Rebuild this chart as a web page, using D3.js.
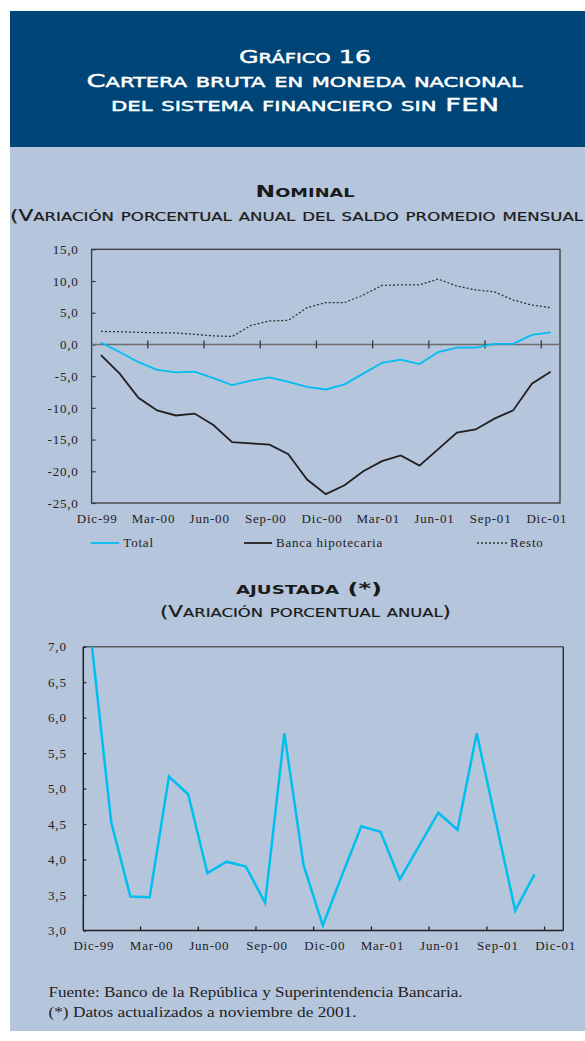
<!DOCTYPE html>
<html><head><meta charset="utf-8">
<script src="https://cdn.jsdelivr.net/npm/d3@7"></script>
<style>body{margin:0;background:#fff}svg{display:block}</style>
</head><body>
<svg id="c" width="585" height="1041"></svg>
<script>
// ---- data ----
const months = ["Dic-99","Ene-00","Feb-00","Mar-00","Abr-00","May-00","Jun-00","Jul-00","Ago-00","Sep-00","Oct-00","Nov-00","Dic-00","Ene-01","Feb-01","Mar-01","Abr-01","May-01","Jun-01","Jul-01","Ago-01","Sep-01","Oct-01","Nov-01","Dic-01"];
const total = [0.3,-1.2,-2.8,-4.0,-4.4,-4.3,-5.3,-6.4,-5.7,-5.2,-5.9,-6.7,-7.1,-6.3,-4.6,-2.9,-2.4,-3.1,-1.2,-0.5,-0.5,0.1,0.1,1.5,1.9];
const banca = [-1.7,-4.6,-8.4,-10.4,-11.2,-10.9,-12.7,-15.4,-15.6,-15.8,-17.3,-21.3,-23.6,-22.2,-20.0,-18.4,-17.5,-19.1,-16.5,-13.9,-13.4,-11.7,-10.4,-6.2,-4.3];
const resto = [2.05,2.0,1.9,1.85,1.8,1.6,1.35,1.25,3.0,3.7,3.8,5.8,6.6,6.6,7.8,9.3,9.4,9.4,10.3,9.2,8.6,8.3,7.0,6.2,5.8];
const ajustada = [7.0,4.53,3.48,3.47,5.17,4.92,3.81,3.97,3.90,3.39,5.78,3.92,3.07,3.78,4.47,4.39,3.72,4.19,4.66,4.42,5.78,4.53,3.28,3.79];
const xTickLabels = ["Dic-99","Mar-00","Jun-00","Sep-00","Dic-00","Mar-01","Jun-01","Sep-01","Dic-01"];
const yTicksTop = [15,10,5,0,-5,-10,-15,-20,-25];
const yTicksBottom = [7,6.5,6,5.5,5,4.5,4,3.5,3];
const legendItems = ["Total","Banca hipotecaria","Resto"];

const locale = d3.formatLocale({decimal:",",thousands:".",grouping:[3],currency:["$",""],minus:"-"});
const fmt = locale.format(".1f");

const svg = d3.select("#c");
const serif = "'Liberation Serif','Times New Roman',serif";
const capsFont = "'DejaVu Sans',sans-serif";
const CYAN = "#00bff0", BLACK = "#231f20", AXIS = "#3a3a3a";

// backgrounds
svg.append("rect").attr("x",10).attr("y",147).attr("width",590).attr("height",884).attr("fill","#b5c5dc");
svg.append("rect").attr("x",10).attr("y",11).attr("width",590).attr("height",136).attr("fill","#004577");

// manual small caps: lowercase letters become smaller capitals
function smallCaps(txt,x,y,len,big,small,color,weight,strokeW){
  const t = svg.append("text").attr("x",x).attr("y",y).attr("textLength",len).attr("lengthAdjust","spacingAndGlyphs")
    .attr("fill",color).attr("font-family",capsFont).attr("font-weight",weight);
  if(strokeW) t.attr("stroke",color).attr("stroke-width",strokeW);
  const runs = [];
  for(const ch of txt){
    const isLower = ch !== ch.toUpperCase();
    const size = isLower ? small : big;
    if(runs.length && runs[runs.length-1].size===size) runs[runs.length-1].s += ch.toUpperCase();
    else runs.push({size, s: ch.toUpperCase()});
  }
  t.selectAll("tspan").data(runs).join("tspan").attr("font-size",d=>d.size).text(d=>d.s);
  return t;
}
// header
smallCaps("Gráfico 16",239,63.3,132,17.5,13.5,"#fff","normal",0.45);
smallCaps("Cartera bruta en moneda nacional",86.6,87.3,436,17.5,13.5,"#fff","normal",0.45);
smallCaps("del sistema financiero sin FEN",111,111,388,17.5,13.5,"#fff","normal",0.45);

smallCaps("Nominal",255.6,197,99,16.5,12.5,"#1a1a1a","bold",0);
smallCaps("(Variación porcentual anual del saldo promedio mensual",10,221,573,15,11.5,"#1a1a1a","normal",0.2);
smallCaps("ajustada (*)",236,594,146,16.5,12.5,"#1a1a1a","bold",0);
smallCaps("(Variación porcentual anual)",160,617,291,15,11.5,"#1a1a1a","normal",0.2);

// ---- top chart ----
const xTop = d3.scaleLinear().domain([-0.5,24.5]).range([91.6,560]);
const yTop = d3.scaleLinear().domain([-25,15]).range([503,249.3]);
const gT = svg.append("g");
gT.append("rect").attr("x",xTop(-0.5)).attr("y",yTop(15)).attr("width",xTop(24.5)-xTop(-0.5)).attr("height",yTop(-25)-yTop(15))
  .attr("fill","none").attr("stroke",AXIS).attr("stroke-width",1.3);
const yAxT = gT.append("g").attr("transform",`translate(${xTop(-0.5)},0)`)
  .call(d3.axisLeft(yTop).tickValues(yTicksTop).tickSize(-4).tickPadding(13).tickFormat(fmt));
yAxT.select(".domain").remove();
yAxT.selectAll("line").attr("stroke",AXIS).attr("stroke-width",1.2);
yAxT.selectAll("text").attr("font-family",serif).attr("font-size",13).attr("letter-spacing","0.8px").attr("fill","#222");
// zero line
gT.append("line").attr("x1",xTop(-0.5)).attr("x2",xTop(24.5)).attr("y1",yTop(0)).attr("y2",yTop(0)).attr("stroke","#6e6e6e").attr("stroke-width",1.5);
const tickIdx = d3.range(2.5,24,3);
gT.selectAll("line.zt").data(tickIdx).join("line").attr("class","zt")
  .attr("x1",d=>xTop(d)).attr("x2",d=>xTop(d)).attr("y1",yTop(0)-4).attr("y2",yTop(0)+4).attr("stroke",AXIS).attr("stroke-width",1.3);
gT.selectAll("text.xl").data(xTickLabels).join("text").attr("class","xl")
  .attr("x",(d,i)=>xTop(3*i-0.2)).attr("y",523).attr("text-anchor","middle")
  .attr("font-family",serif).attr("font-size",13).attr("letter-spacing","0.8px").attr("fill","#222").text(d=>d);
const lineT = arr => d3.line().x((d,i)=>xTop(i)).y(d=>yTop(d))(arr);
gT.append("path").attr("d",lineT(resto)).attr("fill","none").attr("stroke","#333").attr("stroke-width",1.3).attr("stroke-dasharray","2,2");
gT.append("path").attr("d",lineT(banca)).attr("fill","none").attr("stroke",BLACK).attr("stroke-width",1.8);
gT.append("path").attr("d",lineT(total)).attr("fill","none").attr("stroke",CYAN).attr("stroke-width",1.8);

// legend
const legPos = [[90.7,119.3,123.3,CYAN,null],[244,272,276,BLACK,null],[477,507,510,"#333","2,2"]];
legendItems.forEach((name,i)=>{
  const p = legPos[i];
  svg.append("line").attr("x1",p[0]).attr("x2",p[1]).attr("y1",543).attr("y2",543).attr("stroke",p[3])
    .attr("stroke-width",p[4]?1.3:1.8).attr("stroke-dasharray",p[4]);
  svg.append("text").attr("x",p[2]).attr("y",547).attr("font-family",serif).attr("font-size",13)
    .attr("letter-spacing","0.8px").attr("fill","#222").text(name);
});

// ---- bottom chart ----
const xBot = d3.scaleLinear().domain([-0.45,24.5]).range([83.3,563.3]);
const yBot = d3.scaleLinear().domain([3,7]).range([930.5,646.7]);
const gB = svg.append("g");
gB.append("line").attr("x1",xBot(-0.45)).attr("x2",xBot(24.5)).attr("y1",yBot(7)).attr("y2",yBot(7)).attr("stroke","#5a5a5a").attr("stroke-width",1.5);
gB.append("line").attr("x1",xBot(24.5)).attr("x2",xBot(24.5)).attr("y1",yBot(7)).attr("y2",yBot(3)).attr("stroke","#222").attr("stroke-width",1.3);
gB.append("line").attr("x1",xBot(-0.45)).attr("x2",xBot(24.5)).attr("y1",yBot(3)).attr("y2",yBot(3)).attr("stroke","#222").attr("stroke-width",1.5);
gB.append("line").attr("x1",xBot(-0.45)).attr("x2",xBot(-0.45)).attr("y1",yBot(7)).attr("y2",yBot(3)).attr("stroke","#222").attr("stroke-width",1.5);
const yAxB = gB.append("g").attr("transform",`translate(${xBot(-0.45)},0)`)
  .call(d3.axisLeft(yBot).tickValues(yTicksBottom).tickSize(-3).tickPadding(16.6).tickFormat(fmt));
yAxB.select(".domain").remove();
yAxB.selectAll("line").attr("stroke","#222").attr("stroke-width",1.2);
yAxB.selectAll("text").attr("font-family",serif).attr("font-size",13).attr("letter-spacing","0.8px").attr("fill","#222");
const xAxB = gB.append("g").attr("transform",`translate(0,${yBot(3)})`)
  .call(d3.axisBottom(xBot).tickValues(tickIdx).tickSize(-4).tickFormat(""));
xAxB.select(".domain").remove();
xAxB.selectAll("line").attr("stroke","#222").attr("stroke-width",1.3);
gB.selectAll("text.xl").data(xTickLabels).join("text").attr("class","xl")
  .attr("x",(d,i)=>xBot(3*i+0.1)).attr("y",950).attr("text-anchor","middle")
  .attr("font-family",serif).attr("font-size",13).attr("letter-spacing","0.8px").attr("fill","#222").text(d=>d);
gB.append("path").attr("d",d3.line().x((d,i)=>xBot(i)).y(d=>yBot(d))(ajustada))
  .attr("fill","none").attr("stroke",CYAN).attr("stroke-width",2.5).attr("stroke-linejoin","miter");

// footer
svg.append("text").attr("x",48.5).attr("y",997).attr("textLength",414).attr("lengthAdjust","spacingAndGlyphs")
  .attr("font-family",serif).attr("font-size",14.5).attr("fill","#222").text("Fuente: Banco de la República y Superintendencia Bancaria.");
svg.append("text").attr("x",48.5).attr("y",1017).attr("textLength",308).attr("lengthAdjust","spacingAndGlyphs")
  .attr("font-family",serif).attr("font-size",14.5).attr("fill","#222").text("(*) Datos actualizados a noviembre de 2001.");
</script>
</body></html>
